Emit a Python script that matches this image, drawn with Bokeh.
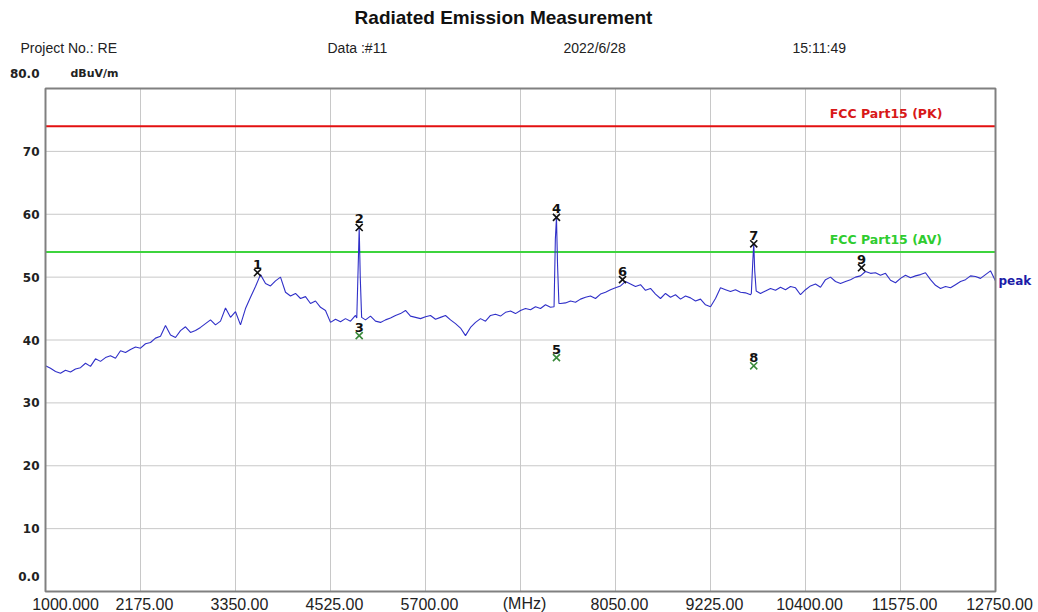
import numpy as np
from bokeh.plotting import figure
from bokeh.models import Label, LabelSet, ColumnDataSource, Range1d
from bokeh.core.properties import value
from bokeh.embed import file_html
from bokeh.resources import INLINE

# ---------------- data ----------------
title_text = "Radiated Emission Measurement"
header_texts = ["Project No.: RE", "Data :#11", "2022/6/28", "15:11:49"]

x_start, x_stop = 1000.0, 12750.0
y_min, y_max = 0.0, 80.0
x_grid = [2175, 3350, 4525, 5700, 6875, 8050, 9225, 10400, 11575]
y_grid = [10, 20, 30, 40, 50, 60, 70]
xtick_vals = [1000, 2175, 3350, 4525, 5700, 6875, 8050, 9225, 10400, 11575, 12750]
xtick_text = ["1000.000", "2175.00", "3350.00", "4525.00", "5700.00", "(MHz)",
              "8050.00", "9225.00", "10400.00", "11575.00", "12750.00"]
ytick_vals = [0, 10, 20, 30, 40, 50, 60, 70, 80]
ytick_text = ["0.0", "10", "20", "30", "40", "50", "60", "70", "80.0"]
y_unit = "dBuV/m"

limit_names = ["FCC Part15 (PK)", "FCC Part15 (AV)"]
limit_levels = [74.0, 54.0]

# peak trace, sampled on an even frequency grid (191 points, 1000 .. 12750 MHz)
trace_level = [
    35.9, 35.5, 35.0, 34.7, 35.2, 34.9, 35.4, 35.6, 36.3, 35.8,
    37.0, 36.6, 37.2, 37.5, 37.1, 38.3, 38.0, 38.5, 38.9, 38.7,
    39.4, 39.6, 40.3, 40.6, 42.3, 40.8, 40.4, 41.5, 42.1, 41.2,
    41.5, 42.0, 42.6, 43.2, 42.4, 43.0, 45.1, 43.6, 44.5, 42.4,
    45.0, 46.8, 48.5, 50.4, 49.0, 48.6, 49.4, 50.0, 47.6, 47.0,
    47.4, 46.6, 46.9, 45.8, 46.2, 45.2, 44.7, 42.8, 43.3, 42.9,
    43.4, 43.0, 43.9, 43.6, 43.2, 43.8, 43.0, 42.8, 43.2, 43.5,
    43.9, 44.2, 44.7, 43.8, 43.6, 43.4, 43.7, 43.9, 43.3, 43.6,
    43.9, 43.2, 42.6, 41.9, 40.7, 42.0, 42.8, 43.4, 43.0, 43.9,
    44.1, 43.8, 44.4, 44.6, 44.2, 44.7, 45.0, 44.8, 45.3, 45.0,
    45.6, 45.2, 45.0, 45.8, 45.9, 46.2, 46.0, 46.5, 46.8, 47.0,
    46.6, 47.3, 47.6, 48.0, 48.3, 48.6, 49.3, 48.9, 48.5, 48.8,
    47.9, 48.2, 47.3, 46.6, 47.4, 46.8, 47.2, 46.5, 47.0, 46.7,
    46.2, 46.5, 45.6, 45.3, 46.6, 48.3, 48.0, 47.7, 48.0, 47.6,
    47.5, 47.2, 48.0, 47.4, 47.8, 48.2, 47.9, 48.4, 48.0, 48.5,
    48.3, 47.2, 48.0, 48.6, 48.9, 48.4, 49.6, 50.0, 49.3, 49.0,
    49.3, 49.6, 50.0, 50.2, 50.9, 50.6, 50.7, 50.3, 50.6, 49.5,
    49.1, 49.8, 50.3, 49.9, 50.2, 50.4, 50.7, 49.6, 48.7, 48.2,
    48.5, 48.3, 48.8, 49.3, 49.6, 50.2, 50.1, 49.8, 50.4, 51.0,
    49.4,
]
# narrow harmonic spikes
spike_freq = [4850, 4868, 4880, 4893, 4910,
              7290, 7306, 7320, 7333, 7350,
              9730, 9748, 9760, 9772, 9790]
spike_level = [43.5, 52.0, 57.9, 50.0, 43.6,
               45.3, 56.0, 59.5, 52.0, 45.8,
               47.4, 52.5, 55.3, 51.0, 47.8]

# marker table
marker_no = ["1", "2", "3", "4", "5", "6", "7", "8", "9"]
marker_freq = [3622, 4880, 4880, 7320, 7320, 8137, 9760, 9760, 11093]
marker_level = [50.7, 57.9, 40.7, 59.5, 37.2, 49.6, 55.3, 35.9, 51.5]
marker_kind = ["PK", "PK", "AV", "PK", "AV", "PK", "PK", "AV", "PK"]

# ---------------- build ----------------
base_freq = np.linspace(x_start, x_stop, len(trace_level))
base_level = np.array(trace_level)
sf = np.array(spike_freq, dtype=float)
centers = sf[2::5]
mask = np.ones(len(base_freq), dtype=bool)
for c in centers:
    mask &= np.abs(base_freq - c) > 40
freq_all = np.concatenate([base_freq[mask], sf])
lev_all = np.concatenate([base_level[mask], np.array(spike_level)])
order = np.argsort(freq_all)
freq_all = freq_all[order]
lev_all = lev_all[order]

# page layout: the chart box occupies pixels [45, 995] x [88, 591] of a 1038x612 canvas
W, H = 1038, 612
BOX_L, BOX_R, BOX_T, BOX_B = 45, 995, 88, 591
xpp = (x_stop - x_start) / (BOX_R - BOX_L)
ypp = (y_max - y_min) / (BOX_B - BOX_T)
xr = Range1d(x_start - BOX_L * xpp, x_stop + (W - BOX_R) * xpp)
yr = Range1d(y_min - (H - BOX_B) * ypp, y_max + BOX_T * ypp)

FS = "Liberation Sans"
FB = "DejaVu Sans"

p = figure(width=W, height=H, x_range=xr, y_range=yr,
           output_backend="svg", toolbar_location=None, x_axis_location=None, y_axis_location=None,
           min_border=0, min_border_left=0, min_border_right=0, min_border_top=0, min_border_bottom=0)
p.outline_line_color = None
p.background_fill_color = "white"
p.border_fill_color = "white"
p.grid.visible = False

# grid lines
p.segment(x0=x_grid, y0=[y_min] * len(x_grid), x1=x_grid, y1=[y_max] * len(x_grid),
          line_color="#c8c8c8", line_width=1)
p.segment(x0=[x_start] * len(y_grid), y0=y_grid, x1=[x_stop] * len(y_grid), y1=y_grid,
          line_color="#c8c8c8", line_width=1)

limit_colors = ["#e31010", "#3ed43e"]
limit_text_colors = ["#d81818", "#2fcc2f"]
for name, lev, lc, tc in zip(limit_names, limit_levels, limit_colors, limit_text_colors):
    p.line([x_start, x_stop], [lev, lev], line_color=lc, line_width=2.2)
    p.add_layout(Label(x=10700, y=lev, y_offset=5, text=name, text_font=FB, text_font_size="12.5px",
                       text_font_style="bold", text_color=tc, text_baseline="bottom", text_align="left"))

p.line(freq_all, lev_all, line_color="#3030c8", line_width=1.1)

# chart box
p.quad(left=[x_start], right=[x_stop], bottom=[y_min], top=[y_max], fill_color=None,
       line_color="#808080", line_width=2)

pk = [i for i, k in enumerate(marker_kind) if k == "PK"]
av = [i for i, k in enumerate(marker_kind) if k == "AV"]
p.scatter([marker_freq[i] for i in pk], [marker_level[i] for i in pk], marker="x", size=10,
          line_color="#111111", line_width=1.6)
p.scatter([marker_freq[i] for i in av], [marker_level[i] for i in av], marker="x", size=10,
          line_color="#3a8a3a", line_width=1.6)
msrc = ColumnDataSource(dict(x=marker_freq, y=marker_level, t=marker_no))
p.add_layout(LabelSet(x="x", y="y", text="t", source=msrc, y_offset=4, text_align="center",
                      text_baseline="bottom", text_font=value(FB), text_font_size="13px",
                      text_font_style="bold", text_color="#111111"))

# trace name
p.add_layout(Label(x=x_stop, y=trace_level[-1], x_offset=3, text="peak", text_font=FB,
                   text_font_size="12px", text_font_style="bold", text_color="#1c1ca8",
                   text_baseline="middle", text_align="left"))

# y tick labels
for v, t in zip(ytick_vals, ytick_text):
    off = 15 if v in (y_min, y_max) else 0
    p.add_layout(Label(x=x_start, y=v, x_offset=-6, y_offset=off, text=t, text_font=FB,
                       text_font_size="12px", text_font_style="bold", text_color="#222222",
                       text_align="right", text_baseline="middle"))
p.add_layout(Label(x=x_start, y=y_max, x_offset=25, y_offset=15, text=y_unit, text_font=FB,
                   text_font_size="11px", text_font_style="bold", text_color="#222222",
                   text_align="left", text_baseline="middle"))

# x tick labels
for i, (v, t) in enumerate(zip(xtick_vals, xtick_text)):
    xo = 20 if i == 0 else 4
    p.add_layout(Label(x=v, y=y_min, x_offset=xo, y_offset=-12, text=t, text_font=FS,
                       text_font_size="16px", text_color="#222222",
                       text_align="center", text_baseline="middle"))

# title and header
p.add_layout(Label(x=x_start, y=y_max, x_offset=458, y_offset=71, text=title_text, text_font=FS,
                   text_font_size="19px", text_font_style="bold", text_color="#111111",
                   text_align="center", text_baseline="middle"))
for t, xo in zip(header_texts, [-25, 282, 518, 747]):
    p.add_layout(Label(x=x_start, y=y_max, x_offset=xo, y_offset=41, text=t, text_font=FS,
                       text_font_size="14px", text_color="#222222",
                       text_align="left", text_baseline="middle"))

open("out.html", "w").write(file_html(p, INLINE))
